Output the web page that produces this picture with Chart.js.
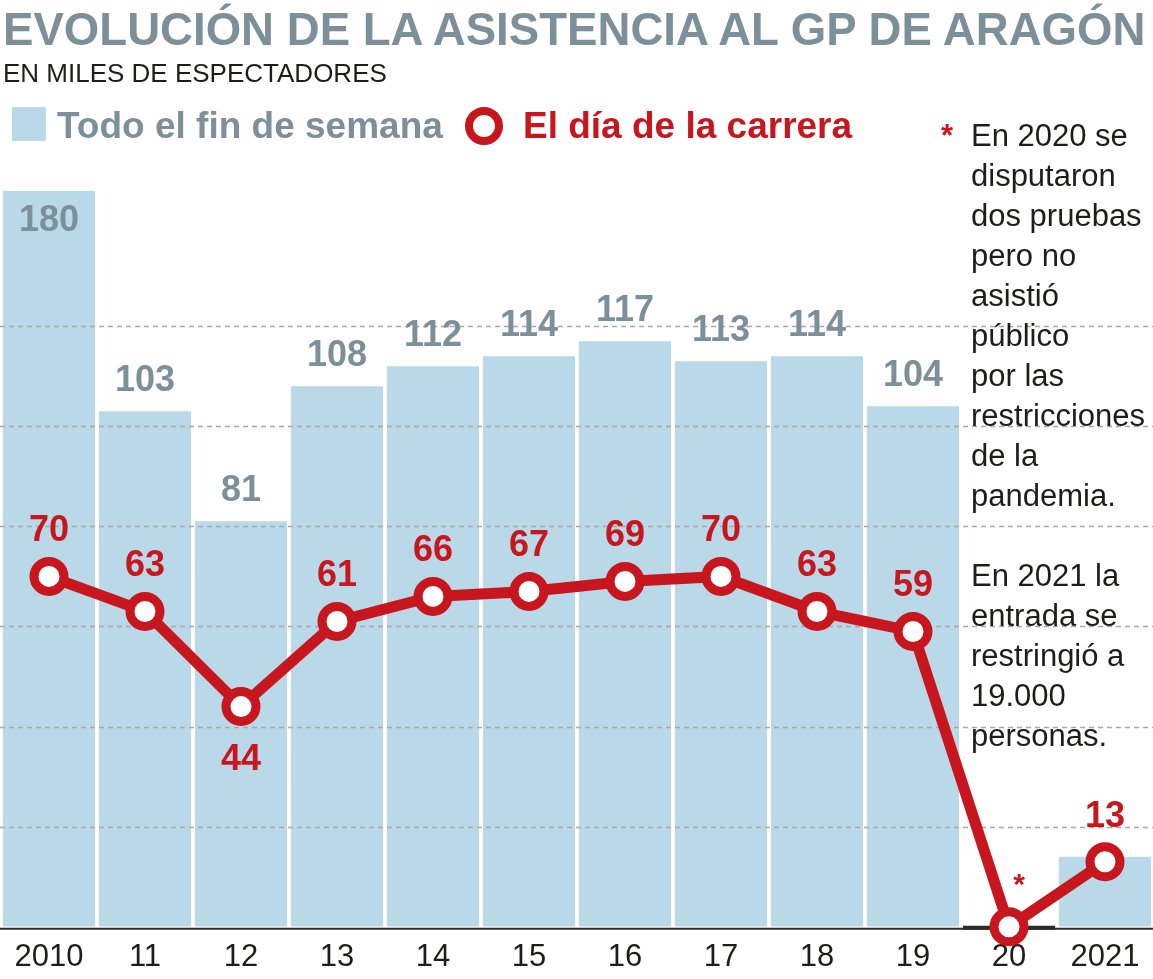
<!DOCTYPE html>
<html lang="es">
<head>
<meta charset="utf-8">
<title>Evolución de la asistencia al GP de Aragón</title>
<script src="https://cdn.jsdelivr.net/npm/chart.js@4.4.0/dist/chart.umd.min.js"></script>
<style>
    body { margin: 0; background: #fff; }
    #wrap { position: relative; width: 1153px; height: 979px; overflow: hidden;
        font-family: "Liberation Sans", Arial, sans-serif; }
    #chart { position: absolute; left: 0; top: 0; }
    .txt { position: absolute; white-space: nowrap; }
    #title { left: 3px; top: 7px; font-size: 45.6px; line-height: 45px; font-weight: bold; color: #7d9099; }
    #subtitle { left: 3px; top: 60px; font-size: 26px; line-height: 26px; color: #1d1d1b; }
    #legBox { position: absolute; left: 12px; top: 107px; width: 34px; height: 34px; background: #bad9e8; }
    #legBar { left: 57px; top: 107px; font-size: 37px; line-height: 37px; font-weight: bold; color: #7d9099; }
    #legDot { position: absolute; left: 465px; top: 107px; width: 22px; height: 22px;
        border: 8px solid #c8161e; border-radius: 50%; background: #fff; }
    #legLine { left: 523px; top: 107px; font-size: 37px; line-height: 37px; font-weight: bold; color: #c8161e; }
    #note { left: 971px; top: 116px; font-size: 31px; line-height: 40px; color: #1d1d1b; }
    #note .star { position: absolute; left: -30px; top: 0; color: #c8161e; font-weight: bold; }
</style>
</head>
<body>
<div id="wrap">
    <canvas id="chart" width="1153" height="979"></canvas>
    <div class="txt" id="title">EVOLUCIÓN DE LA ASISTENCIA AL GP DE ARAGÓN</div>
    <div class="txt" id="subtitle">EN MILES DE ESPECTADORES</div>
    <div id="legBox"></div>
    <div class="txt" id="legBar">Todo el fin de semana</div>
    <div id="legDot"></div>
    <div class="txt" id="legLine">El día de la carrera</div>
    <div class="txt" id="note"><span class="star">*</span>En 2020 se<br>disputaron<br>dos pruebas<br>pero no<br>asistió<br>público<br>por las<br>restricciones<br>de la<br>pandemia.<br>&nbsp;<br>En 2021 la<br>entrada se<br>restringió a<br>19.000<br>personas.</div>
</div>
<script>
const years = ['2010', '11', '12', '13', '14', '15', '16', '17', '18', '19', '20', '2021'];
const weekendTotal = [180, 103, 81, 108, 112, 114, 117, 113, 114, 104, 0, 14];
const raceDay = [70, 63, 44, 61, 66, 67, 69, 70, 63, 59, 0, 13];
const gridValues = [20, 40, 60, 80, 100, 120];

const BLUE = '#bad9e8';
const GRAY = '#7d9099';
const RED = '#c8161e';
const INK = '#1d1d1b';
const FONT = '"Liberation Sans", Arial, sans-serif';

// dotted guides over the bars but under the red line, plus the base line
const gridPlugin = {
    id: 'dottedGrid',
    beforeDatasetDraw(chart, args) {
        if (args.index !== 0) return;
        const ctx = chart.ctx;
        const y = chart.scales.y;
        const area = chart.chartArea;
        ctx.save();
        ctx.strokeStyle = '#a8a8a8';
        ctx.lineWidth = 1.5;
        ctx.setLineDash([5, 4]);
        gridValues.forEach(function(v) {
            const py = Math.round(y.getPixelForValue(v)) + 0.5;
            ctx.beginPath();
            ctx.moveTo(0, py);
            ctx.lineTo(chart.width, py);
            ctx.stroke();
        });
        ctx.setLineDash([]);
        ctx.strokeStyle = '#2b2b2b';
        ctx.lineWidth = 2;
        ctx.beginPath();
        ctx.moveTo(0, area.bottom + 2);
        ctx.lineTo(chart.width, area.bottom + 2);
        ctx.stroke();
        // empty year gets a heavier base
        const bars = chart.getDatasetMeta(1).data;
        weekendTotal.forEach(function(v, i) {
            if (v !== 0) return;
            const b = bars[i];
            ctx.lineWidth = 4;
            ctx.beginPath();
            ctx.moveTo(b.x - b.width / 2, area.bottom + 1);
            ctx.lineTo(b.x + b.width / 2, area.bottom + 1);
            ctx.stroke();
        });
        ctx.restore();
    }
};

const labelPlugin = {
    id: 'valueLabels',
    afterDatasetsDraw(chart) {
        const ctx = chart.ctx;
        const area = chart.chartArea;
        const bars = chart.getDatasetMeta(1).data;
        const pts = chart.getDatasetMeta(0).data;
        ctx.save();
        ctx.textAlign = 'center';
        ctx.textBaseline = 'alphabetic';
        ctx.font = 'bold 36px ' + FONT;
        ctx.fillStyle = GRAY;
        bars.forEach(function(b, i) {
            const v = weekendTotal[i];
            if (v < 20) return;
            const by = b.y < area.top ? area.top + 40 : b.y - 20;
            ctx.fillText(String(v), b.x, by);
        });
        ctx.fillStyle = RED;
        pts.forEach(function(p, i) {
            const v = raceDay[i];
            if (v === 0) {
                ctx.font = 'bold 30px ' + FONT;
                ctx.fillText('*', p.x + 10, p.y - 33);
                ctx.font = 'bold 36px ' + FONT;
                return;
            }
            const below = i > 0 && i < raceDay.length - 1 &&
                v < raceDay[i - 1] && v < raceDay[i + 1];
            ctx.fillText(String(v), p.x, below ? p.y + 63 : p.y - 35);
        });
        ctx.restore();
    }
};

document.addEventListener('DOMContentLoaded', function() {
    const config = {
        type: 'bar',
        data: {
            labels: years,
            datasets: [{
                type: 'line',
                label: 'El día de la carrera',
                data: raceDay,
                borderColor: RED,
                borderWidth: 11,
                pointRadius: 15,
                pointBorderWidth: 9,
                pointBackgroundColor: '#fff',
                pointBorderColor: RED,
                tension: 0,
                clip: false
            }, {
                type: 'bar',
                label: 'Todo el fin de semana',
                data: weekendTotal,
                backgroundColor: BLUE,
                borderWidth: 0,
                categoryPercentage: 1,
                barPercentage: 0.96
            }]
        },
        options: {
            responsive: false,
            animation: false,
            devicePixelRatio: 1,
            layout: {
                autoPadding: false,
                padding: { top: 191, left: 1, right: 0, bottom: -9 }
            },
            plugins: {
                legend: { display: false },
                tooltip: { enabled: false }
            },
            scales: {
                x: {
                    grid: { display: false, drawTicks: false, tickLength: 0 },
                    border: { display: false },
                    ticks: {
                        color: INK,
                        font: { size: 31, family: FONT },
                        padding: 12,
                        maxRotation: 0,
                        autoSkip: false
                    },
                    afterFit: function(scale) {
                        // let the edge bars run to the canvas edges
                        scale.paddingLeft = 0;
                        scale.paddingRight = 0;
                    }
                },
                y: {
                    display: false,
                    min: 0,
                    max: 147
                }
            }
        },
        plugins: [gridPlugin, labelPlugin]
    };
    new Chart(document.getElementById('chart'), config);
});
</script>
</body>
</html>
